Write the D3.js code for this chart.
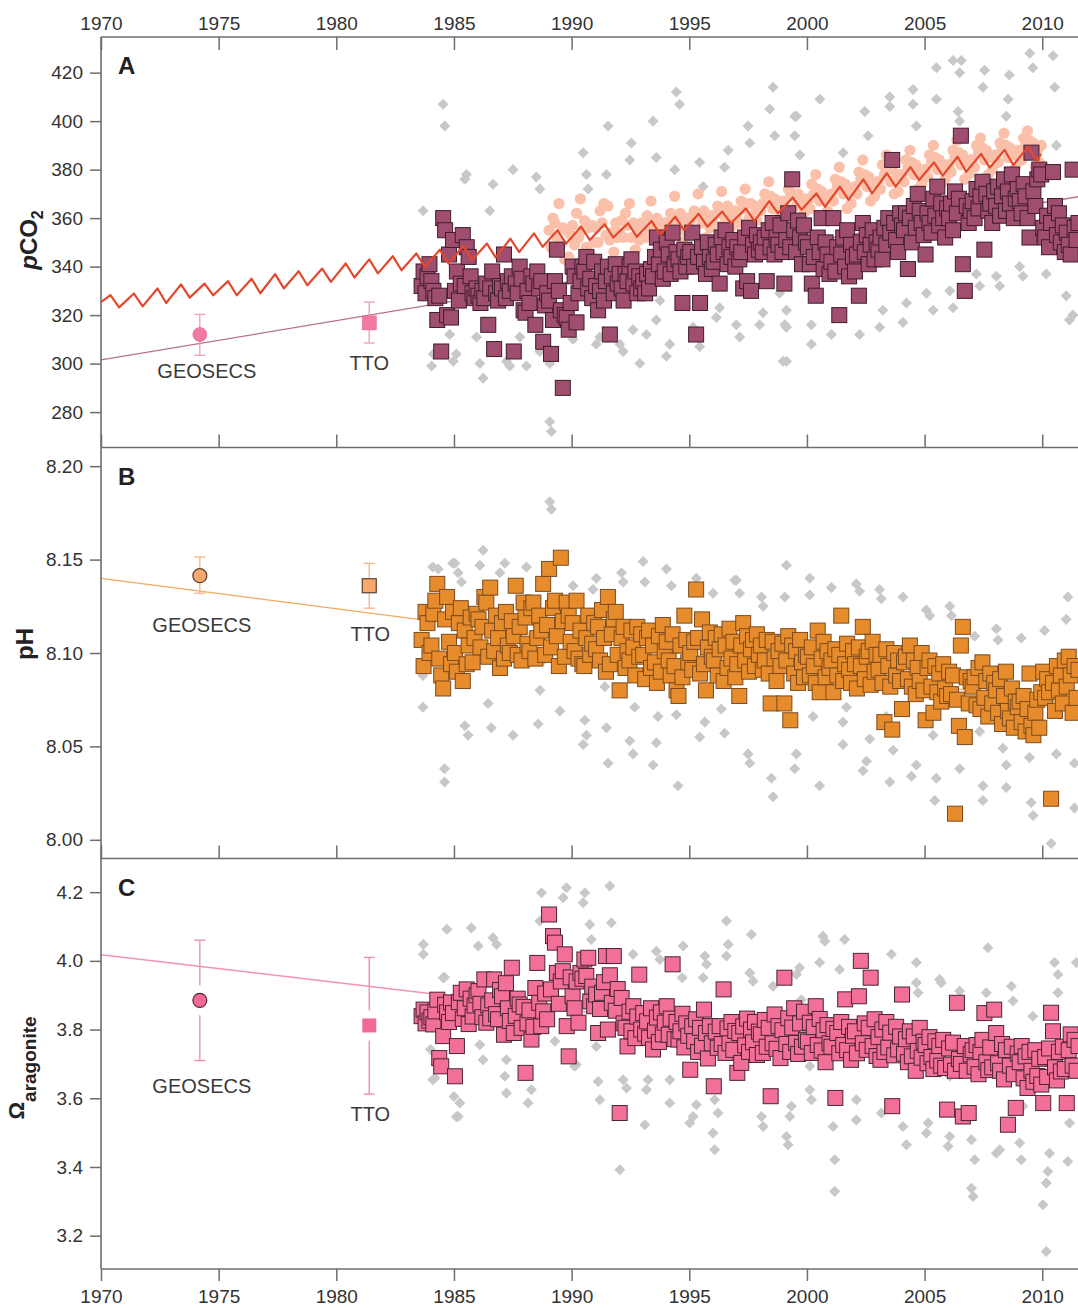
<!DOCTYPE html>
<html><head><meta charset="utf-8">
<script src="https://cdn.jsdelivr.net/npm/d3@7"></script>
<style>
body{margin:0;background:#fff}
svg{display:block}
text{font-family:"Liberation Sans",Arial,Helvetica,sans-serif}
</style>
</head><body>
<svg id="chart" width="1078" height="1308"></svg>
<script>
// ---------------- DATA ----------------
const xTickYears = [1970,1975,1980,1985,1990,1995,2000,2005,2010];
const pco2Ticks = [280,300,320,340,360,380,400,420];
const phTicks = [8.00,8.05,8.10,8.15,8.20];
const omegaTicks = [3.2,3.4,3.6,3.8,4.0,4.2];

const monthYears = [1983,1984,1985,1986,1987,1988,1989,1990,1991,1992,1993,1994,1995,1996,1997,1998,1999,2000,2001,2002,2003,2004,2005,2006,2007,2008,2009,2010,2011];

const pco2Monthly = [
[null,null,null,null,null,null,null,332,338,329,336,341],
[334,330,327,318,328,305,360,355,320,345,319,351],
[330,338,326,333,353,332,348,344,336,329,327,331],
[328,325,330,327,333,316,331,338,306,329,326,332],
[331,345,327,334,330,336,305,333,329,340,335,322],
[321,330,325,336,333,316,338,331,334,309,324,329],
[326,304,318,334,347,330,322,290,320,319,314,325],
[340,336,317,329,334,340,338,344,331,335,327,342],
[332,322,330,338,326,334,340,312,336,329,341,333],
[337,331,326,337,334,340,343,333,338,329,336,331],
[334,329,337,331,339,336,344,352,341,347,335,338],
[350,345,337,354,341,346,343,338,325,347,340,344],
[346,354,340,312,344,325,348,342,337,350,344,339],
[342,349,345,333,352,346,355,341,348,344,351,340],
[348,343,346,331,352,334,356,330,349,345,353,347],
[350,346,352,334,355,348,358,345,352,349,357,346],
[333,351,362,348,376,355,346,359,352,341,357,350],
[348,341,333,344,328,352,346,360,339,350,345,337],
[342,360,338,348,320,345,352,340,355,336,349,344],
[338,345,328,350,358,346,353,341,349,355,343,350],
[347,352,343,356,349,360,354,384,358,351,346,362],
[357,355,362,339,360,350,365,356,370,363,358,353],
[345,362,358,354,368,361,373,357,366,360,352,364],
[360,366,355,371,362,368,394,341,330,365,358,363],
[367,360,372,364,369,375,347,370,363,366,358,371],
[365,373,361,369,376,363,371,366,378,360,368,372],
[367,362,374,369,360,352,387,371,365,376,380,378],
[356,352,361,348,358,379,365,353,362,350,357,346],
[354,349,345,380,356,351,358]
];

const phMonthly = [
[null,null,null,null,null,null,null,8.107,8.093,8.122,8.116,8.100],
[8.104,8.121,8.128,8.137,8.097,8.088,8.081,8.118,8.130,8.106,8.094,8.122],
[8.100,8.090,8.116,8.124,8.085,8.112,8.094,8.104,8.119,8.095,8.108,8.121],
[8.118,8.103,8.114,8.130,8.127,8.098,8.135,8.112,8.101,8.120,8.108,8.092],
[8.116,8.097,8.122,8.104,8.100,8.117,8.109,8.136,8.099,8.114,8.096,8.127],
[8.119,8.105,8.101,8.124,8.127,8.097,8.108,8.120,8.112,8.137,8.099,8.115],
[8.145,8.103,8.124,8.128,8.109,8.093,8.151,8.117,8.098,8.127,8.120,8.106],
[8.116,8.101,8.128,8.097,8.112,8.094,8.093,8.108,8.120,8.099,8.105,8.116],
[8.102,8.114,8.096,8.123,8.108,8.090,8.130,8.094,8.110,8.118,8.122,8.099],
[8.080,8.108,8.114,8.092,8.101,8.096,8.112,8.103,8.088,8.114,8.098,8.110],
[8.099,8.086,8.108,8.112,8.092,8.104,8.095,8.084,8.109,8.090,8.115,8.101],
[8.106,8.096,8.088,8.110,8.093,8.080,8.077,8.104,8.087,8.120,8.107,8.095],
[8.100,8.091,8.106,8.134,8.108,8.089,8.118,8.094,8.080,8.103,8.111,8.098],
[8.096,8.108,8.088,8.102,8.110,8.085,8.104,8.092,8.113,8.097,8.106,8.087],
[8.094,8.077,8.104,8.116,8.096,8.109,8.090,8.102,8.107,8.093,8.110,8.099],
[8.104,8.091,8.096,8.107,8.089,8.073,8.106,8.097,8.085,8.101,8.093,8.105],
[8.073,8.096,8.109,8.064,8.104,8.089,8.101,8.084,8.107,8.095,8.087,8.099],
[8.098,8.088,8.103,8.093,8.084,8.112,8.079,8.097,8.106,8.087,8.101,8.092],
[8.096,8.079,8.102,8.088,8.099,8.120,8.085,8.094,8.105,8.091,8.084,8.101],
[8.094,8.081,8.103,8.093,8.114,8.086,8.098,8.101,8.083,8.106,8.090,8.099],
[8.091,8.099,8.084,8.063,8.102,8.093,8.082,8.059,8.100,8.088,8.096,8.085],
[8.070,8.095,8.098,8.086,8.104,8.082,8.096,8.078,8.092,8.085,8.100,8.080],
[8.064,8.092,8.096,8.082,8.068,8.093,8.079,8.089,8.074,8.094,8.081,8.077],
[8.090,8.078,8.088,8.014,8.075,8.061,8.104,8.114,8.055,8.087,8.073,8.085],
[8.082,8.087,8.072,8.092,8.070,8.095,8.076,8.085,8.066,8.089,8.073,8.084],
[8.080,8.068,8.086,8.062,8.077,8.090,8.069,8.065,8.081,8.060,8.074,8.071],
[8.074,8.063,8.077,8.058,8.070,8.089,8.061,8.056,8.068,8.075,8.060,8.079],
[8.090,8.076,8.086,8.079,8.022,8.084,8.069,8.093,8.080,8.088,8.073,8.096],
[8.082,8.098,8.088,8.068,8.093,8.076,8.091]
];

const omegaMonthly = [
[null,null,null,null,null,null,null,3.839,3.858,3.818,3.850,3.826],
[3.836,3.815,3.853,3.887,3.717,3.693,3.781,3.872,3.850,3.822,3.879,3.848],
[3.664,3.752,3.880,3.907,3.831,3.862,3.917,3.816,3.890,3.838,3.870,3.900],
[3.912,3.875,3.836,3.946,3.820,3.870,3.833,3.885,3.946,3.845,3.830,3.915],
[3.897,3.785,3.935,3.862,3.825,3.980,3.790,3.840,3.890,3.873,3.805,3.866],
[3.674,3.818,3.856,3.771,3.808,3.921,3.994,3.878,3.810,3.853,3.905,3.830],
[4.135,3.917,4.072,4.053,3.965,3.875,3.940,3.970,4.019,3.810,3.722,3.952],
[3.897,3.862,3.940,3.820,3.965,3.948,4.004,3.956,4.009,3.882,3.925,3.868],
[3.902,3.790,3.860,3.907,3.938,4.014,3.800,3.958,3.878,4.014,3.855,3.918],
[3.557,3.892,3.818,3.805,3.751,3.852,3.795,3.868,3.775,3.838,3.960,3.800],
[3.848,3.788,3.824,3.776,3.862,3.742,3.797,3.835,3.764,3.850,3.786,3.820],
[3.868,3.785,3.832,3.990,3.772,3.822,3.771,3.795,3.846,3.748,3.818,3.782],
[3.683,3.810,3.766,3.830,3.735,3.805,3.753,3.858,3.790,3.716,3.810,3.760],
[3.635,3.794,3.747,3.810,3.758,3.917,3.732,3.803,3.760,3.822,3.741,3.796],
[3.674,3.790,3.703,3.809,3.754,3.832,3.735,3.800,3.763,3.822,3.726,3.794],
[3.786,3.732,3.828,3.750,3.805,3.606,3.760,3.844,3.744,3.810,3.717,3.798],
[3.951,3.758,3.833,3.735,3.806,3.862,3.761,3.729,3.818,3.750,3.852,3.770],
[3.765,3.820,3.732,3.807,3.868,3.755,3.831,3.739,3.798,3.705,3.813,3.760],
[3.750,3.802,3.601,3.790,3.731,3.822,3.755,3.888,3.740,3.808,3.712,3.782],
[3.795,3.731,3.897,4.000,3.760,3.818,3.741,3.805,3.951,3.752,3.830,3.723],
[3.778,3.712,3.800,3.735,3.822,3.748,3.791,3.577,3.725,3.808,3.742,3.780],
[3.902,3.730,3.772,3.705,3.795,3.722,3.780,3.680,3.738,3.805,3.718,3.765],
[3.755,3.702,3.778,3.720,3.685,3.766,3.710,3.752,3.695,3.770,3.688,3.567],
[3.745,3.698,3.762,3.680,3.878,3.714,3.700,3.547,3.752,3.680,3.557,3.728],
[3.740,3.692,3.755,3.670,3.735,3.770,3.848,3.705,3.682,3.748,3.690,3.858],
[3.790,3.702,3.680,3.758,3.655,3.740,3.523,3.695,3.750,3.670,3.572,3.730],
[3.705,3.752,3.658,3.722,3.630,3.735,3.680,3.648,3.740,3.665,3.715,3.640],
[3.586,3.720,3.662,3.745,3.849,3.795,3.690,3.652,3.735,3.678,3.750,3.685],
[3.586,3.740,3.786,3.695,3.770,3.680,3.752]
];

// atmospheric CO2 (seasonal peak / trough per year)
const atmYears = d3.range(1970, 2010);
const atmStart = [1970.0, 325.4];
const atmEnd = [2009.95, 386.5];
const atmPeak = [328.2,328.9,331,332.7,333,334,335,336.9,338.1,339.2,341.3,343,344.3,345.4,347,348.5,349.5,351.5,353.7,355,356.5,357.5,357.9,358.8,360.6,361.8,362.7,364,367,368.5,370.2,373,376,378.5,381,383,385.3,386.5,388.1,389.5];
const atmTrough = [323.2,323.6,325,327.2,328.2,328.2,329,331,332.3,333.7,335.5,337.2,338.5,339.9,341.2,342.7,343.8,346,348.2,349.5,351,352,352.3,353.2,355.1,356.5,357.9,358.8,362,363.5,364.7,367.5,370.2,373,375.7,377.5,379.1,380.8,381.9,383.5];

// light salmon atmospheric samples (12 per year)
const salmonYears = d3.range(1989, 2010);
const salmonVals = [
[355,348,360,358,352,366,349,356,343,355,344,353],
[357,349,362,352,368,355,359,348,356,345,357,350],
[356,350,363,358,366,353,365,351,354,346,358,352],
[354,359,352,362,357,366,352,358,347,355,351,358],
[357,352,361,356,367,358,354,360,348,356,353,358],
[358,354,362,359,369,360,357,362,350,358,354,360],
[359,355,363,361,370,362,358,363,352,359,356,361],
[361,357,365,362,371,364,359,365,353,361,357,363],
[362,358,367,364,372,366,360,366,355,362,359,365],
[363,366,370,368,375,369,364,368,358,365,361,367],
[366,363,372,369,377,370,365,370,359,367,362,368],
[367,364,374,370,378,372,367,371,361,368,363,369],
[370,367,376,373,381,375,370,374,364,371,366,372],
[373,370,379,376,384,378,373,377,367,374,369,375],
[375,372,382,378,386,381,375,380,370,376,371,378],
[378,375,384,381,388,383,378,382,372,379,374,380],
[380,377,386,383,390,385,380,384,374,381,376,382],
[382,379,388,385,392,387,382,386,376,383,378,384],
[384,381,390,387,393,389,384,388,378,385,380,386],
[386,383,391,389,395,390,385,389,379,386,381,388],
[387,384,393,390,396,392,387,391,381,388,383,390]
];

const pco2Diamonds = [
[1983.69,363],[1984.54,407],[1984.61,398],[1985.53,378],[1985.46,376],[1986.52,363],[1986.66,374],[1987.51,380],[1988.5,377],[1988.65,372],[1990.49,387],[1990.63,378],[1990.7,372],[1991.55,398],[1991.48,378],[1992.54,391],[1992.47,384],[1993.46,400],[1993.6,385],[1994.45,412],[1994.59,407],[1994.38,380],[1995.44,383],[1995.59,373],[1996.5,381],[1996.65,388],[1997.5,398],[1997.57,391],[1998.42,405],[1998.56,414],[1998.63,394],[1999.55,402],
[1984.05,299],[1984.12,304],[1984.82,312],[1984.97,301],[1985.1,304],[1986.1,300],[1986.24,294],[1985.96,311],[1987.23,301],[1987.37,299],[1987.8,311],[1988.08,299],[1988.65,305],[1989.07,300],[1989.07,276],[1989.14,272],[1990.06,310],[1990.2,318],[1991.05,308],[1991.2,311],[1992.05,308],[1992.19,305],[1992.9,300],[1993.18,312],[1993.6,318],[1994.03,303],[1994.17,308],[1995.16,315],[1995.44,307],[1996.15,319],[1996.29,323],[1997.0,316],[1997.14,311],[1997.99,316],[1998.13,321],[1999.13,301],[1999.13,315],[1993.75,326],[1998.84,329],[1992.61,314],
[2000.55,409],[1999.48,402],[1999.48,394],[1999.7,386],[2001.54,387],[2002.46,404],[2002.6,394],[2003.52,410],[2003.52,406],[2004.51,413],[2004.51,407],[2004.65,398],[2005.5,422],[2005.5,409],[2006.21,425],[2006.56,425],[2006.49,420],[2006.42,404],[2006.49,400],[2007.55,421],[2007.48,414],[2008.6,419],[2008.55,409],[2008.47,402],[2009.47,428],[2009.6,422],[2010.46,427],[2010.53,414],[2010.6,390],
[1999.13,322],[1998.99,301],[1999.06,316],[2000.19,316],[2000.19,308],[2001.04,312],[2002.24,312],[2003.09,315],[2003.23,322],[2004.08,317],[2004.23,325],[2005.08,329],[2005.36,322],[2006.07,330],[2006.21,323],[2007.2,337],[2007.34,332],[2008.05,336],[2008.19,332],[2009.04,340],[2009.18,336],[2010.17,337],[2011.02,328],[2011.16,318],[2011.3,320]
];

const phDiamonds = [
[1984.1,8.146],[1984.95,8.148],[1983.68,8.088],[1983.68,8.071],[1984.6,8.038],[1984.6,8.031],
[1984.33,8.145],[1985.04,8.148],[1985.18,8.143],[1985.32,8.138],[1986.24,8.155],[1986.1,8.147],[1987.16,8.148],[1986.95,8.143],[1988.08,8.146],[1989.07,8.181],[1989.14,8.177],[1990.06,8.136],[1991.05,8.140],[1990.91,8.134],[1992.12,8.143],[1992.19,8.138],[1993.04,8.149],[1993.11,8.138],[1994.03,8.145],[1994.24,8.136],[1995.3,8.140],[1996.01,8.132],[1996.93,8.139],
[1985.46,8.061],[1985.6,8.056],[1986.45,8.073],[1986.59,8.060],[1987.51,8.056],[1988.58,8.062],[1988.65,8.080],[1989.5,8.069],[1990.56,8.064],[1990.63,8.056],[1990.49,8.051],[1991.55,8.041],[1991.48,8.060],[1992.47,8.053],[1992.61,8.046],[1992.68,8.071],[1993.46,8.040],[1993.6,8.052],[1993.67,8.066],[1994.52,8.029],[1994.45,8.067],[1995.44,8.055],[1995.66,8.063],[1996.36,8.070],[1996.5,8.057],[1986.66,8.098],[1988.79,8.096],[1991.41,8.082],
[1999.13,8.147],[1997.0,8.139],[1997.14,8.132],[1998.07,8.130],[1998.14,8.125],[1999.06,8.130],[2000.12,8.140],[2000.12,8.131],[2001.04,8.135],[2002.1,8.137],[2002.24,8.133],[2003.09,8.134],[2003.16,8.129],[2004.08,8.130],[2005.07,8.123],[2005.22,8.120],[2006.07,8.125],[2006.14,8.120],[2007.13,8.109],[2008.05,8.113],[2008.12,8.107],[2009.11,8.108],[2010.1,8.112],[2011.09,8.130],[2011.02,8.118],
[1997.5,8.046],[1997.57,8.041],[1998.49,8.033],[1998.56,8.023],[1999.55,8.046],[1999.48,8.038],[2000.54,8.029],[2001.53,8.051],[2002.53,8.042],[2002.38,8.037],[2003.52,8.031],[2003.66,8.048],[2004.65,8.040],[2004.44,8.034],[2005.5,8.033],[2005.43,8.021],[2006.49,8.038],[2007.48,8.029],[2007.48,8.021],[2008.47,8.040],[2008.47,8.028],[2009.53,8.020],[2009.61,8.013],[2010.38,7.998],[2010.6,8.046],[2011.37,8.041],[2011.37,8.017],[2001.68,8.071],[2002.67,8.054],[2003.37,8.066],[2005.36,8.056],[2007.34,8.058],[2008.33,8.049],[2009.46,8.044],[2001.53,8.063],[2000.26,8.066]
];

const omegaDiamonds = [
[1983.7,4.048],[1983.7,4.019],[1984.7,4.092],[1984.6,3.952],[1984.0,3.742],[1984.1,3.654],[1985.1,3.546],[1985.0,3.605],
[1985.74,4.096],[1986.66,4.067],[1986.81,4.048],[1984.54,3.951],[1988.72,4.198],[1988.65,4.116],[1989.64,4.184],[1989.78,4.213],[1990.56,4.198],[1990.49,4.169],[1991.62,4.218],[1990.77,4.106],[1990.84,4.062],[1991.69,4.111],[1992.61,4.019],[1993.6,4.028],[1993.75,4.004],[1994.74,4.043],[1995.66,4.014],[1995.73,3.990],[1996.58,4.116],[1996.65,4.048],[1996.58,4.014],[1994.7,3.951],[1995.59,3.951],[1986.03,4.043],
[1984.19,3.659],[1985.25,3.586],[1985.18,3.547],[1986.1,3.756],[1986.24,3.712],[1987.23,3.712],[1987.16,3.664],[1987.23,3.615],[1988.15,3.586],[1988.29,3.625],[1989.29,3.766],[1990.13,3.693],[1991.13,3.649],[1991.2,3.596],[1992.05,3.392],[1992.19,3.654],[1992.33,3.630],[1993.11,3.523],[1993.18,3.625],[1993.25,3.654],[1994.17,3.586],[1994.17,3.654],[1995.02,3.528],[1995.16,3.547],[1995.3,3.581],[1996.01,3.499],[1996.08,3.450],[1996.08,3.596],[1996.22,3.557],[1991.05,3.751],[1990.2,3.698],
[1997.64,4.077],[2000.68,4.072],[2000.76,4.057],[2001.6,4.062],[2003.59,4.019],[2004.65,3.995],[2007.69,4.038],[2010.52,3.995],[2010.67,3.960],[2010.67,3.907],[2011.45,3.995],[1999.69,3.980],[1999.55,3.960],[2000.54,3.995],[2001.39,3.975],[2002.38,4.004],[2004.72,3.907],[2004.65,3.936],[2005.64,3.946],[2005.71,3.936],[2006.49,3.912],[2007.62,3.907],[2008.69,3.926],[2008.76,3.883],[2009.6,3.839],[1997.57,3.965],[1997.71,3.941],[1998.56,3.926],[1999.76,3.887],
[1998.07,3.547],[1998.14,3.518],[1999.13,3.489],[1999.2,3.465],[1999.34,3.577],[1999.27,3.547],[2000.12,3.625],[2000.19,3.596],[2001.11,3.518],[2001.18,3.421],[2001.18,3.329],[2002.1,3.537],[2003.16,3.557],[2004.23,3.465],[2005.15,3.528],[2005.08,3.499],[2006.07,3.489],[2006.0,3.460],[2006.99,3.479],[2007.13,3.421],[2006.99,3.338],[2007.06,3.314],[2008.19,3.450],[2008.05,3.440],[2009.04,3.470],[2009.11,3.421],[2010.31,3.440],[2010.24,3.387],[2010.17,3.353],[2010.03,3.290],[2010.17,3.154],[2011.09,3.416],[2011.16,3.528],[2000.12,3.693],[2002.1,3.596],[2004.08,3.518],[2006.07,3.664],[2009.18,3.577]
];

// trend lines (endpoints)
const pco2Trend = [[1970, 301.5],[2012, 369.6]];
const phTrend = [[1970, 8.140],[2012, 8.0716]];
const omegaTrend = [[1970, 4.018],[2012, 3.678]];

// historical cruises
const refLabels = ["GEOSECS","TTO"];
const refYears = [1974.2, 1981.4];
const pco2Ref = [312.0, 316.8];
const pco2RefErr = [[303.4,320.3],[308.5,325.4]];
const phRef = [8.1414, 8.136];
const phRefErr = [[8.132,8.1514],[8.124,8.148]];
const omegaRef = [3.885, 3.812];
const omegaRefErr = [[3.71,4.06],[3.612,4.01]];

// ---------------- DRAWING ----------------
const svg = d3.select("#chart");
const LEFT = 101, RIGHT_EXT = 1089.3;
const x = d3.scaleLinear().domain([1970, 2012]).range([LEFT, RIGHT_EXT]);
const AXIS_COL = "#6e6e6e", TEXT_COL = "#333";

function monthly(rows){
  const out = [];
  rows.forEach((r,i)=>r.forEach((v,m)=>{ if(v!=null) out.push([monthYears[i] + (m+0.5)/12, v]); }));
  return out;
}

const panels = [
  {key:"A", top:37, bottom:447.5, domain:[265.4,434.7], ticks:pco2Ticks, fmt:d3.format("d"),
   sq:monthly(pco2Monthly), dia:pco2Diamonds, trend:pco2Trend, trendCol:"#b47290", trendW:1.3,
   sqFill:"#a04e70", sqStroke:"#3e1c2c",
   ref:pco2Ref, refErr:pco2RefErr, refFill:"#f07aa0", refStroke:"#e2648c", refStrokeW:0.6, errCol:"#f3a3bb", gap:0,
   labOff:[[7,43],[0,47]]},
  {key:"B", top:447.5, bottom:858.5, domain:[7.990,8.210], ticks:phTicks, fmt:d3.format(".2f"),
   sq:monthly(phMonthly), dia:phDiamonds, trend:phTrend, trendCol:"#f2aa5e", trendW:1.3,
   sqFill:"#e68c2c", sqStroke:"#7c4a1c",
   ref:phRef, refErr:phRefErr, refFill:"#f7a86a", refStroke:"#5a4030", refStrokeW:1.2, errCol:"#f6b98e", gap:0,
   labOff:[[2,56],[1,55]]},
  {key:"C", top:858.5, bottom:1269, domain:[3.103,4.298], ticks:omegaTicks, fmt:d3.format(".1f"),
   sq:monthly(omegaMonthly), dia:omegaDiamonds, trend:omegaTrend, trendCol:"#f590b2", trendW:1.5,
   sqFill:"#f27098", sqStroke:"#4a2434",
   ref:omegaRef, refErr:omegaRefErr, refFill:"#f06a94", refStroke:"#4a2434", refStrokeW:1.1, errCol:"#f48fb0", gap:15,
   labOff:[[2,93],[1,96]]}
];

const defs = svg.append("defs");

panels.forEach((p, pi) => {
  const y = d3.scaleLinear().domain(p.domain).range([p.bottom, p.top]);
  defs.append("clipPath").attr("id","clip"+p.key)
    .append("rect").attr("x",LEFT).attr("y",p.top).attr("width",RIGHT_EXT-LEFT).attr("height",p.bottom-p.top);
  const g = svg.append("g").attr("clip-path","url(#clip"+p.key+")");

  // gray diamonds
  g.append("g").selectAll("rect").data(p.dia).join("rect")
    .attr("x",-3.9).attr("y",-3.9).attr("width",7.8).attr("height",7.8)
    .attr("transform", d => `translate(${x(d[0])},${y(d[1])}) rotate(45)`)
    .attr("fill","#c8c8c8");

  // trend line
  g.append("path").datum(p.trend)
    .attr("d", d3.line().x(d=>x(d[0])).y(d=>y(d[1])))
    .attr("fill","none").attr("stroke",p.trendCol).attr("stroke-width",p.trendW);

  // salmon cloud (panel A)
  if (p.key === "A") {
    const salmon = [];
    salmonVals.forEach((row,i)=>row.forEach((v,k)=>salmon.push([salmonYears[i] + (k+0.5)/12, v])));
    g.append("g").selectAll("circle").data(salmon).join("circle")
      .attr("cx", d=>x(d[0])).attr("cy", d=>y(d[1])).attr("r",5.6)
      .attr("fill","#fbc0aa");
  }

  // squares
  g.append("g").selectAll("rect").data(p.sq).join("rect")
    .attr("x", d=>x(d[0])-7.5).attr("y", d=>y(d[1])-7.5)
    .attr("width",15).attr("height",15)
    .attr("fill",p.sqFill).attr("stroke",p.sqStroke).attr("stroke-width",1);

  // atmospheric CO2 zigzag (panel A)
  if (p.key === "A") {
    const atm = [atmStart];
    atmYears.forEach((yr,i)=>{ atm.push([yr+0.40, atmPeak[i]]); atm.push([yr+0.77, atmTrough[i]]); });
    atm.push(atmEnd);
    g.append("path").datum(atm)
      .attr("d", d3.line().x(d=>x(d[0])).y(d=>y(d[1])))
      .attr("fill","none").attr("stroke","#e4482c").attr("stroke-width",2.2).attr("stroke-linejoin","round");
  }

  // historical cruises: error bars, markers, labels
  refYears.forEach((yr,i)=>{
    const cx = x(yr), cy = y(p.ref[i]);
    const yTop = y(p.refErr[i][1]), yBot = y(p.refErr[i][0]);
    const eb = svg.append("g").attr("stroke",p.errCol).attr("stroke-width",1.4);
    if (p.gap > 0) {
      eb.append("line").attr("x1",cx).attr("x2",cx).attr("y1",yTop).attr("y2",cy-p.gap);
      eb.append("line").attr("x1",cx).attr("x2",cx).attr("y1",cy+p.gap).attr("y2",yBot);
    } else {
      eb.append("line").attr("x1",cx).attr("x2",cx).attr("y1",yTop).attr("y2",yBot);
    }
    eb.append("line").attr("x1",cx-5.5).attr("x2",cx+5.5).attr("y1",yTop).attr("y2",yTop);
    eb.append("line").attr("x1",cx-5.5).attr("x2",cx+5.5).attr("y1",yBot).attr("y2",yBot);
    if (i === 0) {
      svg.append("circle").attr("cx",cx).attr("cy",cy).attr("r",7)
        .attr("fill",p.refFill).attr("stroke",p.refStroke).attr("stroke-width",p.refStrokeW);
    } else {
      svg.append("rect").attr("x",cx-7).attr("y",cy-7).attr("width",14).attr("height",14)
        .attr("fill",p.refFill).attr("stroke",p.key==="C"?"none":p.refStroke).attr("stroke-width",p.refStrokeW);
    }
    svg.append("text").attr("x",cx+p.labOff[i][0]).attr("y",cy+p.labOff[i][1])
      .attr("text-anchor","middle").attr("font-size",20).attr("fill","#3a3a3a")
      .text(refLabels[i]);
  });

  // y axis
  const ya = svg.append("g").attr("transform",`translate(${LEFT},0)`)
    .call(d3.axisLeft(y).tickValues(p.ticks).tickFormat(p.fmt).tickSize(11).tickPadding(7));
  ya.select(".domain").remove();
  ya.selectAll("line").attr("stroke",AXIS_COL).attr("stroke-width",1.5);
  ya.selectAll("text").attr("font-size",19).attr("fill",TEXT_COL)
    .attr("font-family",'"Liberation Sans",Arial,sans-serif');

  // bottom x ticks of each panel
  const isLast = pi === panels.length-1;
  const xa = svg.append("g").attr("transform",`translate(0,${p.bottom})`)
    .call(d3.axisBottom(x).tickValues(xTickYears).tickSizeInner(isLast?12:-13).tickSizeOuter(0)
      .tickPadding(9).tickFormat(isLast? d3.format("d") : ""));
  xa.select(".domain").remove();
  xa.selectAll("line").attr("stroke",AXIS_COL).attr("stroke-width",1.5);
  xa.selectAll("text").attr("font-size",19).attr("fill",TEXT_COL)
    .attr("font-family",'"Liberation Sans",Arial,sans-serif');

  // horizontal frame line
  svg.append("line").attr("x1",LEFT).attr("x2",RIGHT_EXT).attr("y1",p.bottom).attr("y2",p.bottom)
    .attr("stroke",AXIS_COL).attr("stroke-width",1.6);

  // panel letter
  svg.append("text").attr("x",118).attr("y",p.top + 37).attr("font-size",24)
    .attr("font-weight","bold").attr("fill","#222").text(p.key);
});

// top axis
const ta = svg.append("g").attr("transform",`translate(0,${panels[0].top})`)
  .call(d3.axisTop(x).tickValues(xTickYears).tickSizeInner(-13).tickSizeOuter(0).tickPadding(7).tickFormat(d3.format("d")));
ta.select(".domain").remove();
ta.selectAll("line").attr("stroke",AXIS_COL).attr("stroke-width",1.5);
ta.selectAll("text").attr("font-size",19).attr("fill",TEXT_COL)
  .attr("font-family",'"Liberation Sans",Arial,sans-serif');
svg.append("line").attr("x1",LEFT).attr("x2",RIGHT_EXT).attr("y1",panels[0].top).attr("y2",panels[0].top)
  .attr("stroke",AXIS_COL).attr("stroke-width",1.6);

// left frame line
svg.append("line").attr("x1",LEFT).attr("x2",LEFT).attr("y1",panels[0].top).attr("y2",panels[2].bottom)
  .attr("stroke",AXIS_COL).attr("stroke-width",1.6);

// y-axis titles
const t1 = svg.append("text").attr("transform","translate(37,240) rotate(-90)")
  .attr("text-anchor","middle").attr("font-size",24).attr("font-weight","bold").attr("fill","#222");
t1.append("tspan").attr("font-style","italic").text("p");
t1.append("tspan").text("CO");
t1.append("tspan").attr("font-size",16).attr("dy",6).text("2");

svg.append("text").attr("transform","translate(33,644) rotate(-90)")
  .attr("text-anchor","middle").attr("font-size",24).attr("font-weight","bold").attr("fill","#222").text("pH");

const t3 = svg.append("text").attr("transform","translate(24,1068) rotate(-90)")
  .attr("text-anchor","middle").attr("font-size",22).attr("font-weight","bold").attr("fill","#222");
t3.append("tspan").text("Ω");
t3.append("tspan").attr("font-size",19).attr("dy",12).text("aragonite");
</script>
</body></html>
